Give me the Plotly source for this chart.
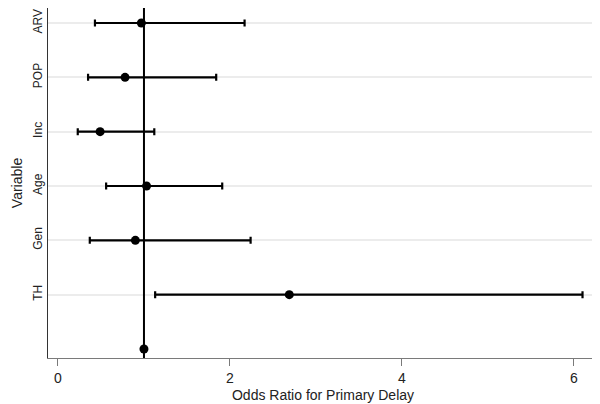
import plotly.graph_objs as go

# odds ratios with 95% CI, bottom row is the reference level (no label)
variables = ['', 'TH', 'Gen', 'Age', 'Inc', 'POP', 'ARV']
odds_ratio = [1.00, 2.69, 0.90, 1.03, 0.49, 0.78, 0.97]
ci_low = [1.00, 1.13, 0.37, 0.56, 0.23, 0.35, 0.43]
ci_high = [1.00, 6.10, 2.24, 1.91, 1.12, 1.84, 2.17]

ypos = list(range(len(variables)))
err_plus = [h - o for h, o in zip(ci_high, odds_ratio)]
err_minus = [o - l for o, l in zip(odds_ratio, ci_low)]

fig = go.Figure()

# reference line at OR = 1
fig.add_shape(type='line', x0=1, x1=1, xref='x', y0=0, y1=1, yref='paper',
              line=dict(color='black', width=2), layer='above')

fig.add_trace(go.Scatter(
    x=odds_ratio, y=ypos, mode='markers', showlegend=False,
    marker=dict(color='black', size=9),
    error_x=dict(type='data', symmetric=False, array=err_plus, arrayminus=err_minus,
                 color='black', thickness=2.2, width=3.5),
))

# page body adds an 8px margin, so the figure is a bit smaller than the window
fig.update_layout(
    width=592, height=396,
    margin=dict(l=40, r=2, t=0, b=46),
    plot_bgcolor='white', paper_bgcolor='white',
    font=dict(family='Liberation Sans, Arial, sans-serif', color='#222222'),
)
fig.update_xaxes(
    range=[-0.116, 6.28], tickvals=[0, 2, 4, 6], showgrid=False, zeroline=False,
    showline=True, linecolor='#7a7a7a', linewidth=1.2,
    ticks='outside', ticklen=7, tickcolor='#7a7a7a',
    tickfont=dict(size=14), automargin=False,
    title=dict(text='Odds Ratio for Primary Delay', font=dict(size=14), standoff=5),
)
fig.update_yaxes(
    range=[-0.166, 6.276], tickvals=ypos[1:], ticktext=variables[1:],
    tickangle=-90, tickfont=dict(size=12), automargin=False,
    ticklabeloverflow='allow',
    showgrid=True, gridcolor='#ececec', gridwidth=1.5, zeroline=False,
    showline=True, linecolor='#333333', linewidth=1.2, ticks='',
    title=dict(text='Variable', font=dict(size=14), standoff=5),
)

fig.write_html("out.html")
